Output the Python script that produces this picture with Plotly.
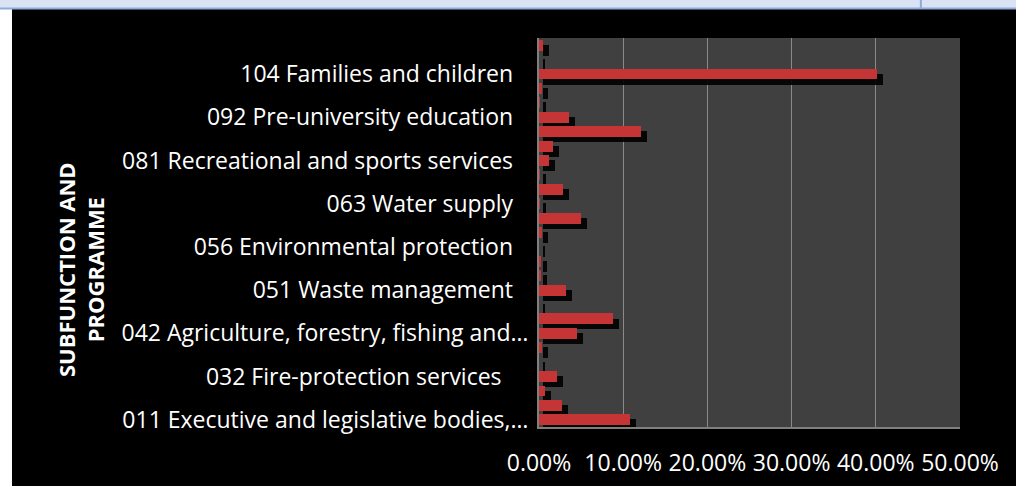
import plotly.graph_objects as go

# Share of spending by subfunction and programme (percent), bottom to top
shares = [10.8, 2.7, 0.7, 2.1, 0.0, 0.35, 4.5, 8.8, 0.0, 3.2, 0.25, 0.25, 0.0, 0.35,
          5.0, 0.1, 2.85, 0.1, 1.2, 1.65, 12.1, 3.55, 0.1, 0.4, 40.1, 0.0, 0.5]

# Only every third row carries a visible label
PAD = "\u2002\u2009"
row_labels = [
    "011 Executive and legislative bodies,…", "", "",
    "032 Fire-protection services" + PAD + "\u2002", "", "",
    "042 Agriculture, forestry, fishing and…", "", "",
    "051 Waste management" + PAD, "", "",
    "056 Environmental protection" + PAD, "", "",
    "063 Water supply" + PAD, "", "",
    "081 Recreational and sports services" + PAD, "", "",
    "092 Pre-university education" + PAD, "", "",
    "104 Families and children" + PAD, "", "",
]
rows = list(range(len(shares)))

x_ticks = [0, 10, 20, 30, 40, 50]
x_tick_text = [f"{t:.2f}%" for t in x_ticks]

FONT = "Open Sans, sans-serif"
BAR_W = 0.76

fig = go.Figure()

# soft drop shadow, shifted right and down behind each bar
fig.add_trace(go.Bar(
    y=rows, x=[v + 0.2 for v in shares], base=0.5, orientation="h",
    width=BAR_W, offset=-BAR_W / 2 - 0.35,
    marker=dict(color="rgba(0,0,0,0.9)", line=dict(width=0)),
    hoverinfo="skip", showlegend=False,
))
# the bars themselves
fig.add_trace(go.Bar(
    y=rows, x=shares, orientation="h",
    width=BAR_W, offset=-BAR_W / 2,
    marker=dict(color="#c63536", line=dict(width=0)),
    showlegend=False,
))

# window chrome: pale band along the top, white strip on the left
fig.add_shape(type="rect", xref="paper", yref="paper", x0=-1.29, x1=1.14,
              y0=1.077, y1=1.1, fillcolor="#dae3f3", line=dict(width=0), layer="below")
fig.add_shape(type="line", xref="paper", yref="paper", x0=-1.29, x1=1.14,
              y0=1.076, y1=1.076, line=dict(color="#8eaadb", width=2))
fig.add_shape(type="line", xref="paper", yref="paper", x0=0.907, x1=0.907,
              y0=1.077, y1=1.1, line=dict(color="#8eaadb", width=2))
fig.add_shape(type="rect", xref="paper", yref="paper", x0=-1.29, x1=-1.2518,
              y0=-0.16, y1=1.075, fillcolor="#ffffff", line=dict(width=0), layer="below")

# two-line rotated axis title
fig.add_annotation(
    text="<b>SUBFUNCTION AND<br>PROGRAMME</b>", textangle=-90,
    xref="paper", yref="paper", x=(80 - 539) / 421, y=(427 - 269) / 389,
    showarrow=False, font=dict(family=FONT, size=22, color="#ffffff"),
    xanchor="center", yanchor="middle",
)

fig.update_layout(
    width=1016, height=486,
    margin=dict(l=539, r=56, t=38, b=59, pad=0),
    paper_bgcolor="#000000", plot_bgcolor="#404040",
    barmode="overlay", bargap=0,
    font=dict(family=FONT, color="#ffffff"),
    xaxis=dict(
        range=[0, 50], tickvals=x_ticks, ticktext=x_tick_text,
        showgrid=True, gridcolor="#8a8a8a", gridwidth=1, zeroline=False,
        showline=True, linecolor="#7f7f7f", linewidth=2,
        ticks="", ticklabelstandoff=14, automargin=False,
        tickfont=dict(family=FONT, size=23, color="#ffffff"),
    ),
    yaxis=dict(
        range=[-0.5, len(shares) - 0.5], tickvals=rows, ticktext=row_labels,
        showgrid=False, zeroline=False,
        showline=True, linecolor="#7f7f7f", linewidth=2,
        ticks="", ticklabelstandoff=4, automargin=False,
        tickfont=dict(family=FONT, size=23, color="#ffffff"),
    ),
)

fig.write_html("out.html")
